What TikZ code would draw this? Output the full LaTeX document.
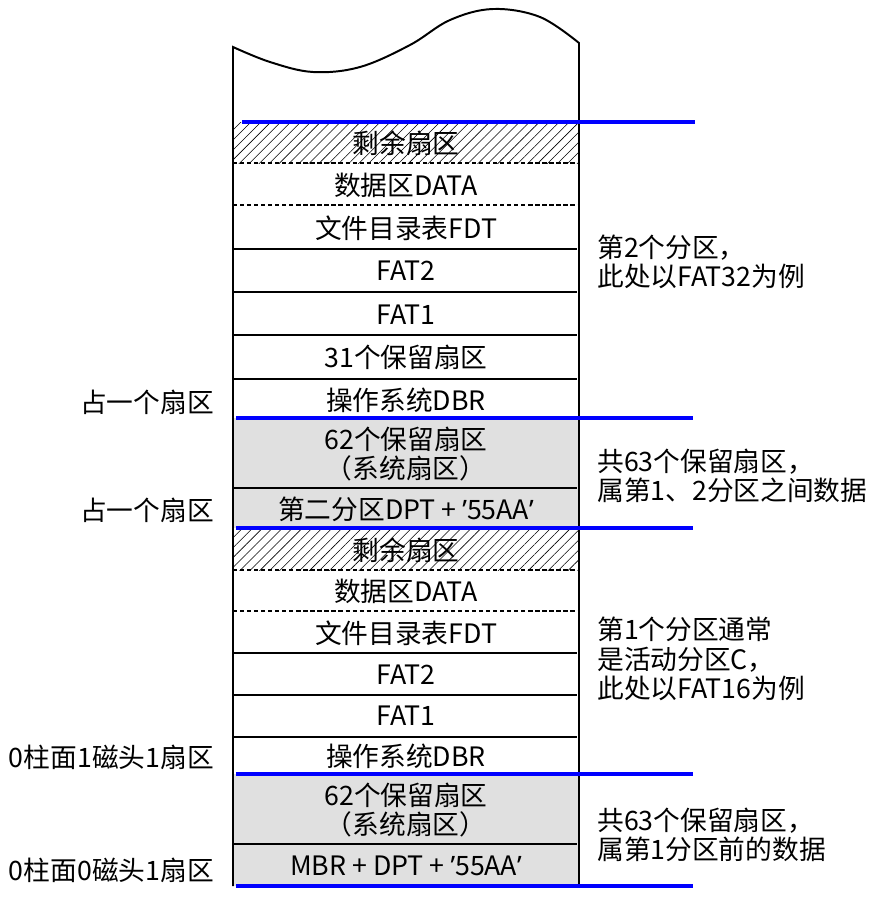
\documentclass[tikz,border=0pt]{standalone}
\usepackage{fontspec}
\setmainfont{Noto Sans CJK SC}
\newfontfamily\quotefont{Noto Sans}
\newcommand\sectquote{{\quotefont ’}}
\usetikzlibrary{patterns.meta}
\definecolor{sysgray}{RGB}{224,224,224}
\definecolor{partblue}{RGB}{0,0,255}

\begin{document}
\begin{tikzpicture}[
        x=0.025cm, y=-0.025cm,
        every node/.style={font=\fontsize{19}{20}\selectfont, inner sep=0pt},
        sector/.style={align=center},
        note/.style={anchor=west, align=left, font=\fontsize{19}{21}\selectfont},
        sidenote/.style={anchor=east},
        hatched/.style={pattern={Lines[angle=45,distance=5pt,line width=0.4pt]}},
        divider/.style={line width=0.9pt},
        dashdiv/.style={line width=0.9pt, dash pattern=on 3pt off 2pt},
        bound/.style={partblue, line width=2.2pt}
    ]
    \useasboundingbox (0,0) rectangle (881,900);
%
    % Fills
    \fill[hatched] (233,122) rectangle (579,163);
    \fill[sysgray] (233,418) rectangle (579,528);
    \fill[hatched] (233,528) rectangle (579,570);
    \fill[sysgray] (233,774) rectangle (579,886);
%
    % Frame with torn top edge
    \draw[line width=1.4pt] (233,886) -- (233,47)
        -- plot[smooth, tension=0.6] coordinates {(233,47) (270,62) (313,72) (360,67) (410,45) (450,20) (493,9) (540,17) (579,43)}
        -- (579,886);
%
    % Dividers, second partition
    \draw[dashdiv] (233,163) -- (579,163);
    \draw[dashdiv] (233,205) -- (579,205);
    \draw[divider] (233,249) -- (577,249);
    \draw[divider] (233,292) -- (577,292);
    \draw[divider] (233,335) -- (577,335);
    \draw[divider] (233,379) -- (577,379);
    \draw[divider] (233,488) -- (577,488);
%
    % Dividers, first partition
    \draw[dashdiv] (233,570) -- (579,570);
    \draw[dashdiv] (233,611) -- (579,611);
    \draw[divider] (233,653) -- (577,653);
    \draw[divider] (233,695) -- (577,695);
    \draw[divider] (233,737) -- (577,737);
    \draw[divider] (233,844) -- (577,844);
%
    % Partition bounds
    \draw[bound] (242,122) -- (695,122);
    \draw[bound] (236,418) -- (693,418);
    \draw[bound] (236,528) -- (693,528);
    \draw[bound] (236,774) -- (693,774);
    \draw[bound] (236,886) -- (693,886);
%
    % Second partition
    \node[sector] (restb) at (406,143) {剩余扇区};
    \node[sector] (datab) at (406,185) {数据区DATA};
    \node[sector] (fdtb) at (406,228) {文件目录表FDT};
    \node[sector] (fattwob) at (406,271) {FAT2};
    \node[sector] (fatoneb) at (406,315) {FAT1};
    \node[sector] (resvb) at (406,357) {31个保留扇区};
    \node[sector] (dbrb) at (406,400) {操作系统DBR};
%
    % Between partitions
    \node[sector] (sysb) at (406,454) {62个保留扇区\\（系统扇区）};
    \node[sector] (dptb) at (406,509) {第二分区DPT + \sectquote55AA\sectquote};
%
    % First partition
    \node[sector] (resta) at (406,550) {剩余扇区};
    \node[sector] (dataa) at (406,591) {数据区DATA};
    \node[sector] (fdta) at (406,633) {文件目录表FDT};
    \node[sector] (fattwoa) at (406,675) {FAT2};
    \node[sector] (fatonea) at (406,716) {FAT1};
    \node[sector] (dbra) at (406,756) {操作系统DBR};
%
    % Before first partition
    \node[sector] (sysa) at (406,810) {62个保留扇区\\（系统扇区）};
    \node[sector] (mbr) at (406,866) {MBR + DPT + \sectquote55AA\sectquote};
%
    % Notes right
    \node[note] (partbnote) at (597,262) {第2个分区，\\此处以FAT32为例};
    \node[note] (gapbnote) at (597,476) {共63个保留扇区，\\属第1、2分区之间数据};
    \node[note] (partanote) at (597,659) {第1个分区通常\\是活动分区C，\\此处以FAT16为例};
    \node[note] (gapanote) at (597,835) {共63个保留扇区，\\属第1分区前的数据};
%
    % Notes left
    \node[sidenote] (dbrblbl) at (214,402) {占一个扇区};
    \node[sidenote] (dptblbl) at (214,510) {占一个扇区};
    \node[sidenote] (dbralbl) at (214,757) {0柱面1磁头1扇区};
    \node[sidenote] (mbrlbl) at (214,870) {0柱面0磁头1扇区};
%
\end{tikzpicture}
\end{document}
